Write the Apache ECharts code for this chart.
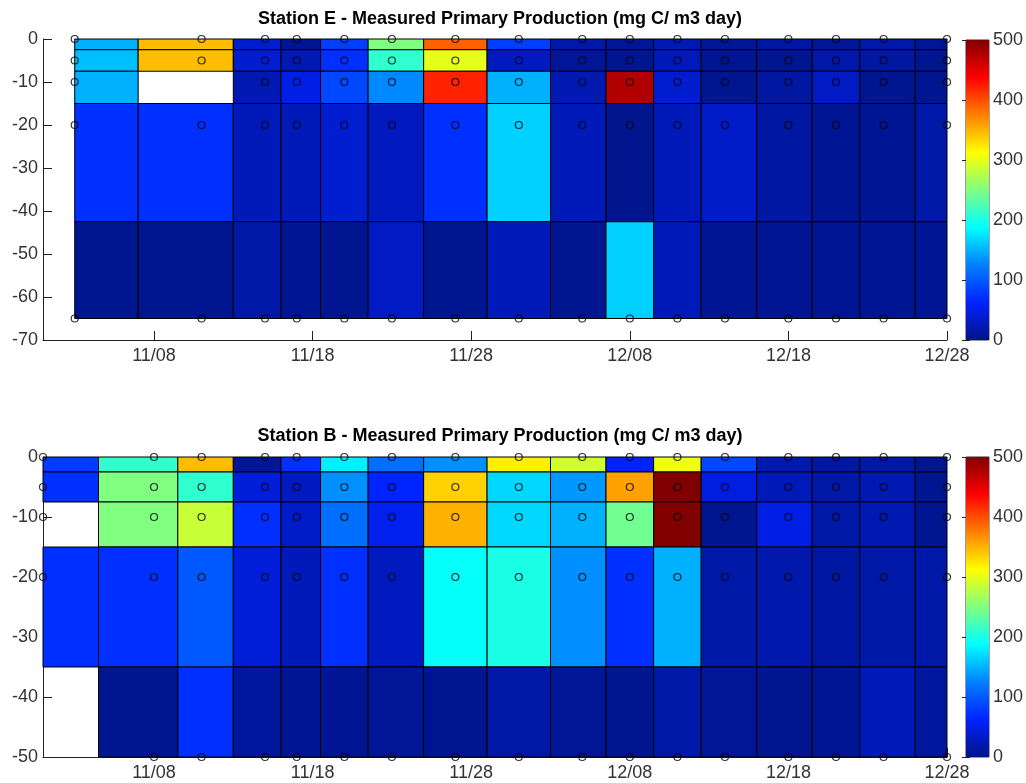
<!DOCTYPE html>
<html><head><meta charset="utf-8">
<script src="https://cdn.jsdelivr.net/npm/echarts@6/dist/echarts.min.js"></script>
<style>html,body{margin:0;padding:0;background:#fff}#c{width:1026px;height:783px}</style>
</head><body><div id="c"></div>
<script>
// ---- Station E ----
const eDays = [3, 11, 15, 17, 20, 23, 27, 31, 35, 38, 41, 44, 48, 51, 54, 58];
const eDepths = [0, -5, -10, -20, -65];
const eRow0   = [149, 345, 38, 6, 82, 250, 390, 82, 17, 8, 23, 8, 15, 8, 17, 8];
const eRow5   = [156, 345, 38, 21, 72, 211, 300, 29, 8, 4, 26, 4, 4, 17, 13, 4];
const eRow10  = [149, null, 21, 49, 88, 129, 421, 149, 21, 476, 38, 4, 13, 31, 4, 4];
const eRow20  = [72, 72, 26, 26, 38, 29, 72, 165, 26, 3, 26, 34, 13, 6, 6, 17];
const eRow65  = [4, 4, 17, 6, 4, 31, 4, 26, 4, 165, 26, 6, 6, 6, 6, 6];
const eExtraSamples = [];

// ---- Station B ----
const bDays = [1, 8, 11, 15, 17, 20, 23, 27, 31, 35, 38, 41, 44, 48, 51, 54, 58];
const bDepths = [0, -5, -10, -20, -50];
const bRow0   = [80, 211, 345, 8, 72, 180, 114, 133, 320, 290, 62, 305, 88, 21, 13, 17, 4];
const bRow5   = [72, 250, 211, 42, 29, 133, 64, 335, 168, 137, 359, 500, 46, 26, 17, 21, 4];
const bRow10  = [null, 250, 285, 71, 34, 114, 54, 351, 168, 149, 242, 500, 4, 49, 17, 21, 4];
const bRow20  = [72, 72, 99, 42, 26, 72, 29, 190, 200, 133, 72, 149, 17, 19, 13, 17, 17];
const bRow50  = [null, 4, 72, 11, 6, 6, 8, 4, 17, 8, 4, 17, 8, 4, 6, 26, 11];
const bExtraSamples = [[1, -10]];

// ---- axes ----
const xTickDays = [8, 18, 28, 38, 48, 58];
const xTickLabels = ['11/08', '11/18', '11/28', '12/08', '12/18', '12/28'];
const jetColors = ['#001488', '#0022ff', '#0080ff', '#00ffff', '#80ff80', '#ffff00', '#ff8000', '#ff0000', '#800000'];

const eRows = [eRow0, eRow5, eRow10, eRow20, eRow65];
const bRows = [bRow0, bRow5, bRow10, bRow20, bRow50];

function buildCells(days, depths, rows) {
  const cells = [];
  const n = days.length, m = depths.length;
  for (let i = 0; i < n; i++) {
    const x0 = i === 0 ? days[0] : (days[i - 1] + days[i]) / 2;
    const x1 = i === n - 1 ? days[n - 1] : (days[i] + days[i + 1]) / 2;
    for (let j = 0; j < m; j++) {
      const y0 = j === 0 ? depths[0] : (depths[j - 1] + depths[j]) / 2;
      const y1 = j === m - 1 ? depths[m - 1] : (depths[j] + depths[j + 1]) / 2;
      const v = rows[j][i];
      if (v !== null) cells.push([x0, x1, y0, y1, v]);
    }
  }
  return cells;
}
function buildPoints(days, depths, rows, extra) {
  const pts = [];
  for (let i = 0; i < days.length; i++)
    for (let j = 0; j < depths.length; j++)
      if (rows[j][i] !== null) pts.push([days[i], depths[j]]);
  return pts.concat(extra);
}

function renderCell(params, api) {
  const p0 = api.coord([api.value(0), api.value(2)]);
  const p1 = api.coord([api.value(1), api.value(3)]);
  return {
    type: 'rect',
    shape: { x: p0[0], y: p0[1], width: p1[0] - p0[0], height: p1[1] - p0[1] },
    style: { fill: api.visual('color'), stroke: '#000', lineWidth: 1 }
  };
}
function renderBar(params, api) {
  const p0 = api.coord([0, 500]);
  const p1 = api.coord([1, 0]);
  return {
    type: 'rect',
    shape: { x: p0[0], y: p0[1], width: p1[0] - p0[0], height: p1[1] - p0[1] },
    style: {
      fill: new echarts.graphic.LinearGradient(0, 1, 0, 0,
        jetColors.map((c, k) => ({ offset: k / (jetColors.length - 1), color: c })))
    }
  };
}

const FONT = 'Liberation Sans, Arial, sans-serif';
const AX = '#222';

function mainX(gi) {
  return {
    gridIndex: gi, type: 'value', min: 1, max: 58,
    axisLine: { show: true, onZero: false, lineStyle: { color: AX, width: 1 } },
    axisTick: { show: true, inside: true, length: 9, customValues: xTickDays, lineStyle: { color: AX } },
    axisLabel: { customValues: xTickDays, fontSize: 18, color: '#333', margin: 7, fontFamily: FONT,
      formatter: v => xTickLabels[xTickDays.indexOf(v)] },
    splitLine: { show: false }
  };
}
function mainY(gi, min) {
  return {
    gridIndex: gi, type: 'value', min: min, max: 0, interval: 10,
    axisLine: { show: true, onZero: false, lineStyle: { color: AX, width: 1 } },
    axisTick: { show: true, inside: true, length: 9, lineStyle: { color: AX } },
    axisLabel: { fontSize: 18, color: '#333', margin: 5, fontFamily: FONT },
    splitLine: { show: false }
  };
}
function barY(gi, pos, labels) {
  return {
    gridIndex: gi, type: 'value', min: 0, max: 500, interval: 100, position: pos,
    axisLine: { show: false },
    axisTick: { show: true, inside: true, length: 4, lineStyle: { color: AX } },
    axisLabel: { show: labels, fontSize: 18, color: '#333', margin: 4, fontFamily: FONT },
    splitLine: { show: false }
  };
}
function barX(gi) {
  return { gridIndex: gi, type: 'value', min: 0, max: 1, show: false };
}

const chart = echarts.init(document.getElementById('c'), null, { renderer: 'canvas' });
chart.setOption({
  animation: false,
  backgroundColor: '#fff',
  textStyle: { fontFamily: FONT },
  title: [
    { text: 'Station E - Measured Primary Production (mg C/ m3 day)', left: 495, textAlign: 'center', top: 5,
      textStyle: { fontSize: 18, fontWeight: 'bold', color: '#000', fontFamily: FONT } },
    { text: 'Station B - Measured Primary Production (mg C/ m3 day)', left: 495, textAlign: 'center', top: 422,
      textStyle: { fontSize: 18, fontWeight: 'bold', color: '#000', fontFamily: FONT } }
  ],
  grid: [
    { left: 43, top: 39, width: 904, height: 301 },
    { left: 43, top: 457, width: 904, height: 300 },
    { left: 966, top: 40, width: 24, height: 300, show: true, borderColor: '#333', borderWidth: 1, backgroundColor: 'transparent' },
    { left: 966, top: 457, width: 24, height: 300, show: true, borderColor: '#333', borderWidth: 1, backgroundColor: 'transparent' }
  ],
  xAxis: [mainX(0), mainX(1), barX(2), barX(3)],
  yAxis: [mainY(0, -70), mainY(1, -50), barY(2, 'right', true), barY(2, 'left', false), barY(3, 'right', true), barY(3, 'left', false)],
  visualMap: {
    type: 'continuous', show: false, min: 0, max: 500, dimension: 4, seriesIndex: [0, 2],
    inRange: { color: jetColors }
  },
  series: [
    { type: 'custom', xAxisIndex: 0, yAxisIndex: 0, renderItem: renderCell, data: buildCells(eDays, eDepths, eRows), silent: true },
    { type: 'scatter', xAxisIndex: 0, yAxisIndex: 0, data: buildPoints(eDays, eDepths, eRows, eExtraSamples),
      symbol: 'circle', symbolSize: 7, silent: true, z: 5,
      itemStyle: { color: 'rgba(0,0,0,0)', borderColor: '#000', borderWidth: 1.2 } },
    { type: 'custom', xAxisIndex: 1, yAxisIndex: 1, renderItem: renderCell, data: buildCells(bDays, bDepths, bRows), silent: true },
    { type: 'scatter', xAxisIndex: 1, yAxisIndex: 1, data: buildPoints(bDays, bDepths, bRows, bExtraSamples),
      symbol: 'circle', symbolSize: 7, silent: true, z: 5,
      itemStyle: { color: 'rgba(0,0,0,0)', borderColor: '#000', borderWidth: 1.2 } },
    { type: 'custom', xAxisIndex: 2, yAxisIndex: 2, renderItem: renderBar, data: [[0, 0]], silent: true },
    { type: 'custom', xAxisIndex: 3, yAxisIndex: 4, renderItem: renderBar, data: [[0, 0]], silent: true }
  ]
});
</script>
</body></html>
